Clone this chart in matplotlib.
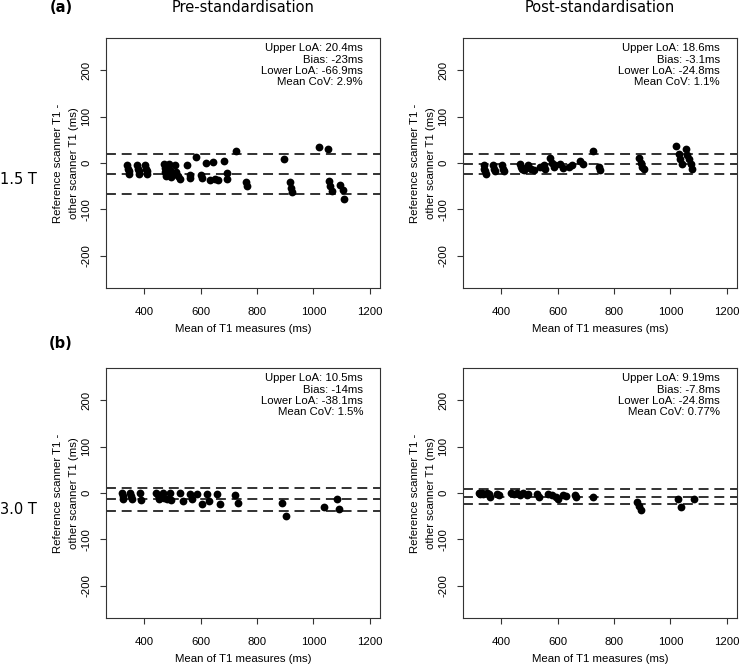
import matplotlib
matplotlib.use("Agg")
import matplotlib.pyplot as plt

# ---------------- data ----------------
pre15_mean = [340, 342, 345, 347, 375, 378, 380, 382, 403, 406, 409, 411,
              470, 472, 475, 478, 488, 490, 493, 496, 508, 512, 520, 525,
              552, 562, 563, 582, 602, 605, 618, 632, 643, 650, 662,
              682, 693, 695, 726, 762, 764, 894, 918, 922, 925,
              1018, 1053, 1055, 1060, 1065, 1093, 1105, 1109]
pre15_diff = [-5, -12, -18, -24, -5, -12, -18, -24, -5, -12, -18, -24,
              -3, -10, -20, -28, -2, -15, -25, -30, -5, -20, -28, -35,
              -4, -25, -32, 13, -25, -32, -1, -36, 3, -34, -37,
              5, -22, -34, 27, -40, -50, 9, -42, -53, -62,
              34, 30, -38, -50, -60, -47, -58, -77]

post15_mean = [337, 340, 343, 345, 372, 375, 378, 402, 405, 408,
               466, 470, 475, 480, 486, 495, 505, 515, 536, 550, 556,
               572, 580, 586, 592, 607, 620, 640, 650, 680, 690,
               725, 745, 750, 890, 895, 900, 905,
               1019, 1030, 1035, 1040, 1054, 1060, 1065, 1072, 1078]
post15_diff = [-5, -12, -18, -24, -5, -12, -17, -5, -12, -17,
               -2, -8, -12, -15, -10, -5, -12, -15, -8, -5, -12,
               10, 0, -8, -5, -2, -10, -8, -5, 5, -2,
               27, -8, -16, 10, 0, -8, -14,
               36, 20, 8, -2, 30, 18, 8, -2, -14]

pre30_mean = [320, 323, 326, 350, 354, 358, 383, 388,
              443, 447, 452, 458, 467, 470, 480, 490, 496,
              526, 538, 561, 570, 588, 606, 622, 629, 659, 670,
              723, 732, 888, 902, 1036, 1082, 1092]
pre30_diff = [1, -6, -12, 0, -7, -14, 0, -15,
              0, -5, -14, -8, 0, -10, -14, 1, -16,
              1, -18, -3, -14, -2, -24, -2, -18, -2, -23,
              -5, -21, -22, -50, -31, -13, -34]

post30_mean = [319, 325, 330, 336, 348, 355, 360, 383, 390,
               436, 445, 455, 466, 477, 490, 495, 525, 534,
               566, 578, 595, 601, 619, 630, 660, 666, 725,
               883, 890, 895, 1028, 1036, 1083]
post30_diff = [0, -2, 1, -3, 1, -3, -8, -2, -5,
               1, -2, 0, -4, -1, -4, -2, -2, -8,
               -2, -5, -8, -12, -5, -7, -4, -8, -8,
               -19, -28, -36, -14, -30, -14]

# upper LoA, bias, lower LoA
pre15_loa = [20.4, -23, -66.9]
post15_loa = [18.6, -3.1, -24.8]
pre30_loa = [10.5, -14, -38.1]
post30_loa = [9.19, -7.8, -24.8]

pre15_text = ["Upper LoA: 20.4ms", "Bias: -23ms", "Lower LoA: -66.9ms", "Mean CoV: 2.9%"]
post15_text = ["Upper LoA: 18.6ms", "Bias: -3.1ms", "Lower LoA: -24.8ms", "Mean CoV: 1.1%"]
pre30_text = ["Upper LoA: 10.5ms", "Bias: -14ms", "Lower LoA: -38.1ms", "Mean CoV: 1.5%"]
post30_text = ["Upper LoA: 9.19ms", "Bias: -7.8ms", "Lower LoA: -24.8ms", "Mean CoV: 0.77%"]

x_ticks = [400, 600, 800, 1000, 1200]
y_ticks = [-200, -100, 0, 100, 200]
col_titles = ["Pre-standardisation", "Post-standardisation"]
row_labels = ["1.5 T", "3.0 T"]
panel_labels = ["(a)", "(b)"]
xlabel = "Mean of T1 measures (ms)"
ylabel_lines = ["Reference scanner T1 -", "other scanner T1 (ms)"]

# ---------------- layout ----------------
W, H = 740, 666
fig = plt.figure(figsize=(W / 100, H / 100), dpi=100)
RFONT = "Liberation Sans"
TFONT = "DejaVu Sans"
FS = 8.2

col_left = [106, 463]
ax_w = 274
row_top = [38, 368]
ax_h = 250

panels = [
    [(pre15_mean, pre15_diff, pre15_loa, pre15_text),
     (post15_mean, post15_diff, post15_loa, post15_text)],
    [(pre30_mean, pre30_diff, pre30_loa, pre30_text),
     (post30_mean, post30_diff, post30_loa, post30_text)],
]

for r in range(2):
    for c in range(2):
        mx, dy, loa, txt = panels[r][c]
        l = col_left[c]
        t = row_top[r]
        ax = fig.add_axes([l / W, 1 - (t + ax_h) / H, ax_w / W, ax_h / H])
        ax.set_xlim(264, 1236)
        ax.set_ylim(-270, 270)
        for v in loa:
            ax.axhline(v, color="#222222", lw=1.3, ls=(0, (5.5, 3.2)), zorder=1)
        ax.plot(mx, dy, "o", color="black", ms=5.6, mew=0, zorder=3)
        ax.set_xticks(x_ticks)
        ax.set_yticks(y_ticks)
        ax.set_xticklabels([str(v) for v in x_ticks], fontfamily=RFONT, fontsize=FS)
        ax.set_yticklabels([str(v) for v in y_ticks], fontfamily=RFONT, fontsize=FS,
                           rotation=90, va="center")
        ax.tick_params(direction="out", length=4.3, width=0.8, color="#333333")
        ax.tick_params(axis="x", pad=9.5)
        ax.tick_params(axis="y", pad=6.5)
        for s in ax.spines.values():
            s.set_linewidth(0.8)
            s.set_color("#333333")
        # annotation
        for i, line in enumerate(txt):
            fig.text((l + ax_w - 17) / W, 1 - (t + 10.3 + 11.3 * i) / H, line,
                     ha="right", va="center", fontfamily=RFONT, fontsize=FS)
        # x label
        fig.text((l + ax_w / 2) / W, 1 - (t + ax_h + 41) / H, xlabel,
                 ha="center", va="center", fontfamily=RFONT, fontsize=FS)
        # y label lines
        for xp, line in zip([58, 74], ylabel_lines):
            fig.text((l - 106 + xp) / W, 1 - (t + ax_h / 2) / H, line,
                     ha="center", va="center", rotation=90,
                     fontfamily=RFONT, fontsize=FS)

for c in range(2):
    fig.text((col_left[c] + ax_w / 2) / W, 1 - 8 / H, col_titles[c],
             ha="center", va="center", fontfamily=TFONT, fontsize=10.5)

for r, yoff in zip(range(2), [30, 24]):
    fig.text(61 / W, 1 - (row_top[r] - yoff) / H, panel_labels[r],
             ha="center", va="center", fontfamily=TFONT, fontsize=10.5, fontweight="bold")
    fig.text(18 / W, 1 - (row_top[r] + 142) / H, row_labels[r],
             ha="center", va="center", fontfamily=TFONT, fontsize=10.5)

fig.savefig("out.png", dpi=100, facecolor="white")
